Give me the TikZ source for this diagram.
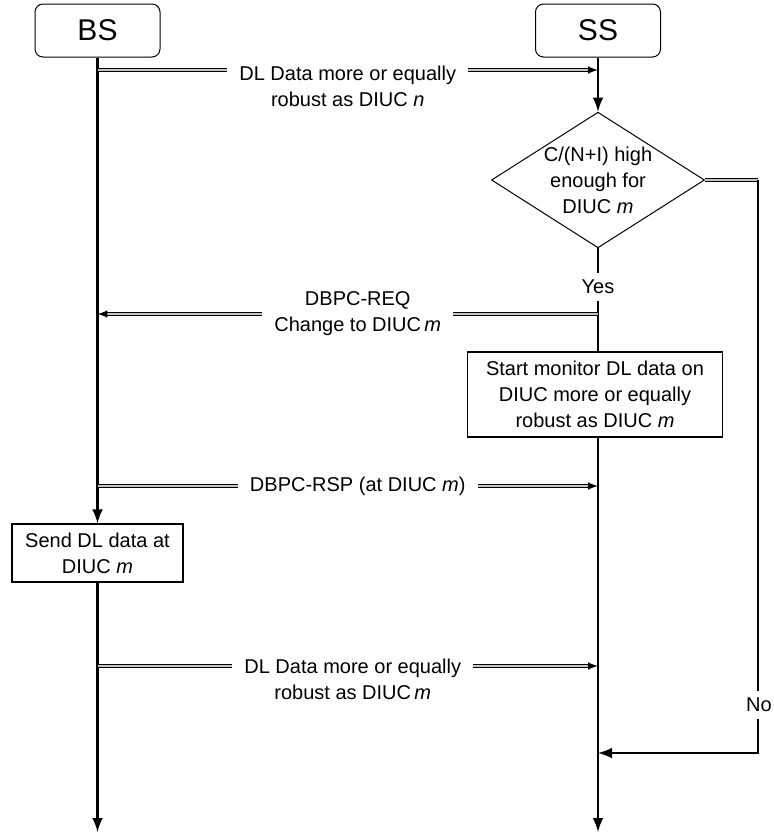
\documentclass[tikz,border=0pt]{standalone}
\usepackage{fontspec}
\setmainfont{Liberation Sans}
\usetikzlibrary{shapes}
\usetikzlibrary{arrows}
\tikzstyle{life}=[line width=1.4pt]
\tikzstyle{msg}=[line width=0.4pt, double=gray!45, double distance=1.1pt]
\tikzstyle{entity}=[draw, rounded corners=4pt, line width=0.5pt, minimum width=62.5pt, minimum height=26.5pt, font=\fontsize{15}{18}\selectfont]
\tikzstyle{procbox}=[draw, line width=0.6pt, fill=white, align=center]
\tikzstyle{decision}=[draw, diamond, aspect=1.57, inner sep=0pt, line width=0.5pt, align=center]
\tikzstyle{lbl}=[fill=white, align=center, inner xsep=6pt, inner ysep=1pt]

\begin{document}
\begin{tikzpicture}[x=0.5pt, y=-0.5pt, font=\fontsize{10}{13}\selectfont, >=latex]
  \useasboundingbox (0,0) rectangle (774,832);
  % the two stations and the steps on their lines
  \node[entity] at (97.5,30.5) (bs) {BS};
  \node[entity] at (598,30.5) (ss) {SS};
  \node[decision] at (598,180) (check) {C/(N+I) high\\enough for\\DIUC \textit{m}};
  \node at (598,287) (yes) {Yes};
  \node[procbox, minimum width=127.5pt, minimum height=42.5pt] at (595,394.5) (monitor) {Start monitor DL data on\\DIUC more or equally\\robust as DIUC \textit{m}};
  \node[procbox, minimum width=85.5pt, minimum height=29pt] at (97.5,553) (send) {Send DL data at\\DIUC \textit{m}};
  \node at (759,705) (no) {No};
  \coordinate (bsend) at (97.5,832);
  \coordinate (ssend) at (598,832);
  \coordinate (nocorner) at (758,180);
  \coordinate (noback) at (758,753);
  \coordinate (ssback) at (598,753);

  % life lines
  \draw[life,->] (bs) -- (send);
  \draw[life,->] (send) -- (bsend);
  \draw[life,->] (ss) -- (check);
  \draw[life] (check) -- (yes);
  \draw[life] (yes) -- (yes |- monitor.north);
  \draw[life,->] (yes |- monitor.south) -- (ssend);

  % the No branch
  \draw[msg] (check.east) -- (nocorner);
  \draw[life] (nocorner) -- (nocorner |- no.north);
  \draw[life,->] (nocorner |- no.south) -- (noback) -- (ssback);

  % messages
  \coordinate (m1a) at (97.5,70);
  \coordinate (m1b) at (598,70);
  \coordinate (m2a) at (598,314);
  \coordinate (m2b) at (97.5,314);
  \coordinate (m3a) at (97.5,486);
  \coordinate (m3b) at (598,486);
  \coordinate (m4a) at (97.5,666);
  \coordinate (m4b) at (598,666);
  \draw[msg,->] (m1a) -- node[lbl, yshift=-8pt] {DL Data more or equally\\robust as DIUC \textit{n}} (m1b);
  \draw[msg,->] (m2a) -- node[lbl, pos=0.48] {DBPC-REQ\\Change to DIUC\,\textit{m}} (m2b);
  \draw[msg,->] (m3a) -- node[lbl, pos=0.52] {DBPC-RSP (at DIUC \textit{m})} (m3b);
  \draw[msg,->] (m4a) -- node[lbl, yshift=-6.5pt, pos=0.51] {DL Data more or equally\\robust as DIUC\,\textit{m}} (m4b);
\end{tikzpicture}
\end{document}
